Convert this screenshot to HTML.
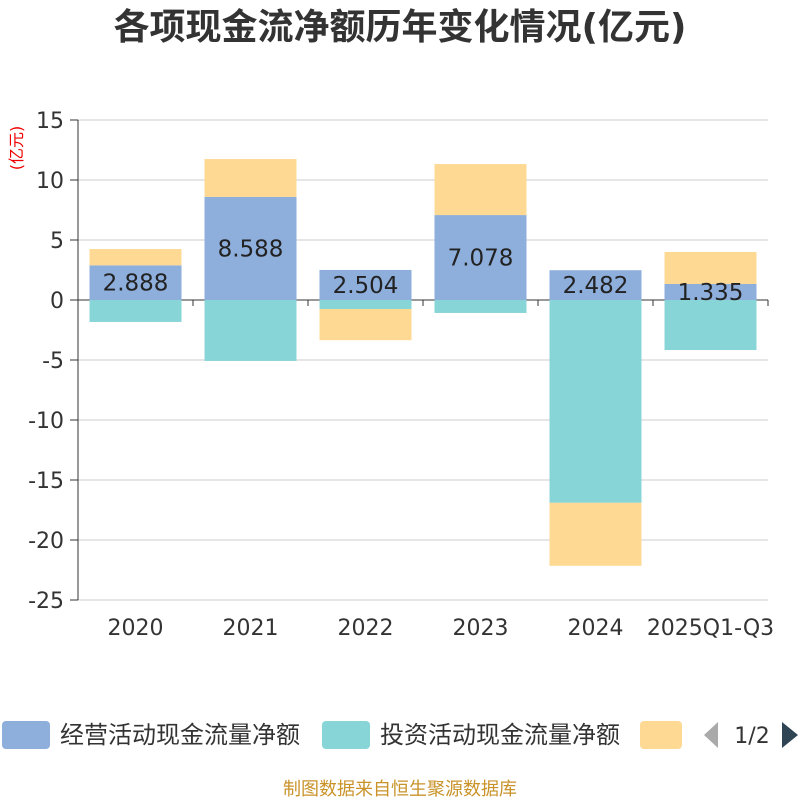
<!DOCTYPE html>
<html><head><meta charset="utf-8">
<style>
body{margin:0;background:#fff;font-family:"DejaVu Sans","Noto Sans CJK SC",sans-serif;}
#wrap{position:relative;width:800px;height:800px;overflow:hidden;}
</style></head>
<body>
<div id="wrap">
<svg id="chart" width="800" height="800" xmlns="http://www.w3.org/2000/svg" font-family="DejaVu Sans, Noto Sans CJK SC, sans-serif">
<text x="400" y="39" text-anchor="middle" font-size="36" font-weight="bold" fill="#333">各项现金流净额历年变化情况(亿元)</text>
<text x="22" y="148" text-anchor="middle" font-size="16" fill="#e00" transform="rotate(-90 22 148)">(亿元)</text>
<g id="grid"></g><g id="bars"></g><g id="axis"></g><g id="labels"></g>
<g>
<rect x="2" y="721" width="48" height="28" rx="4" fill="#8eaedc"/>
<text x="60" y="743" font-size="24" fill="#333">经营活动现金流量净额</text>
<rect x="322" y="721" width="48" height="28" rx="4" fill="#88d5d8"/>
<text x="380" y="743" font-size="24" fill="#333">投资活动现金流量净额</text>
<rect x="640" y="721" width="42" height="28" rx="4" fill="#fdd994"/>
<polygon points="718,722 718,748 704,735" fill="#aaa"/>
<text x="752" y="743" text-anchor="middle" font-size="22" fill="#333">1/2</text>
<polygon points="782,722 782,748 798,735" fill="#2f4554"/>
</g>
<text x="400" y="795" text-anchor="middle" font-size="18" fill="#c9932a">制图数据来自恒生聚源数据库</text>
</svg>
</div>
<script>
const categories=["2020","2021","2022","2023","2024","2025Q1-Q3"];
const operating=[2.888,8.588,2.504,7.078,2.482,1.335];
const investing=[-1.83,-5.08,-0.75,-1.08,-16.9,-4.17];
const financing=[1.36,3.16,-2.6,4.25,-5.25,2.67];
const yTicks=[15,10,5,0,-5,-10,-15,-20,-25];
const NS="http://www.w3.org/2000/svg";
const X0=78,X1=768,Y0=120,Y1=600,ymax=15,ymin=-25;
const y=v=>Y0+(ymax-v)/(ymax-ymin)*(Y1-Y0);
const bw=(X1-X0)/categories.length;
const xc=i=>X0+bw*(i+0.5);
function mk(t,a,p){const e=document.createElementNS(NS,t);for(const k in a)e.setAttribute(k,a[k]);p.appendChild(e);return e;}
const grid=document.getElementById('grid'),bars=document.getElementById('bars'),axis=document.getElementById('axis'),labels=document.getElementById('labels');
yTicks.forEach(v=>{
 const l=mk('line',{x1:X0,x2:X1,y1:y(v),y2:y(v),stroke:v===0?'#333':'#ccc','stroke-width':1},grid);
 
 
 const t=mk('text',{x:X0-14,y:y(v)+8,'text-anchor':'end','font-size':22,fill:'#333'},axis);
 t.textContent=v;
 
 
 const tk=mk('line',{x1:X0-8,x2:X0,y1:y(v),y2:y(v),stroke:'#333'},axis);
 
 
});
const ya=mk('line',{x1:X0,x2:X0,y1:Y0,y2:Y1,stroke:'#333'},axis);


for(let i=0;i<=categories.length;i++){
 const tk=mk('line',{x1:X0+bw*i,x2:X0+bw*i,y1:y(0),y2:y(0)+6,stroke:'#333'},axis);
 
 
}
const series=[[operating,'#8eaedc','bar-operating'],[investing,'#88d5d8','bar-investing'],[financing,'#fdd994','bar-financing']];
const bwid=92;
categories.forEach((c,i)=>{
 let pos=0,neg=0;
 series.forEach(([arr,col,nm])=>{
  const v=arr[i];let a,b;
  if(v>=0){a=pos;b=pos+v;pos=b;}else{a=neg;b=neg+v;neg=b;}
  const top=y(Math.max(a,b)),bot=y(Math.min(a,b));
  const r=mk('rect',{x:xc(i)-bwid/2,y:top,width:bwid,height:bot-top,fill:col},bars);
  
  
 });
 const t=mk('text',{x:xc(i),y:y(operating[i]/2)+8,'text-anchor':'middle','font-size':23,fill:'#222'},labels);
 t.textContent=operating[i].toFixed(3);
 
 
 const xl=mk('text',{x:xc(i),y:Y1+35,'text-anchor':'middle','font-size':22,fill:'#333'},axis);
 xl.textContent=c;
 
 
});
</script>
</body></html>
